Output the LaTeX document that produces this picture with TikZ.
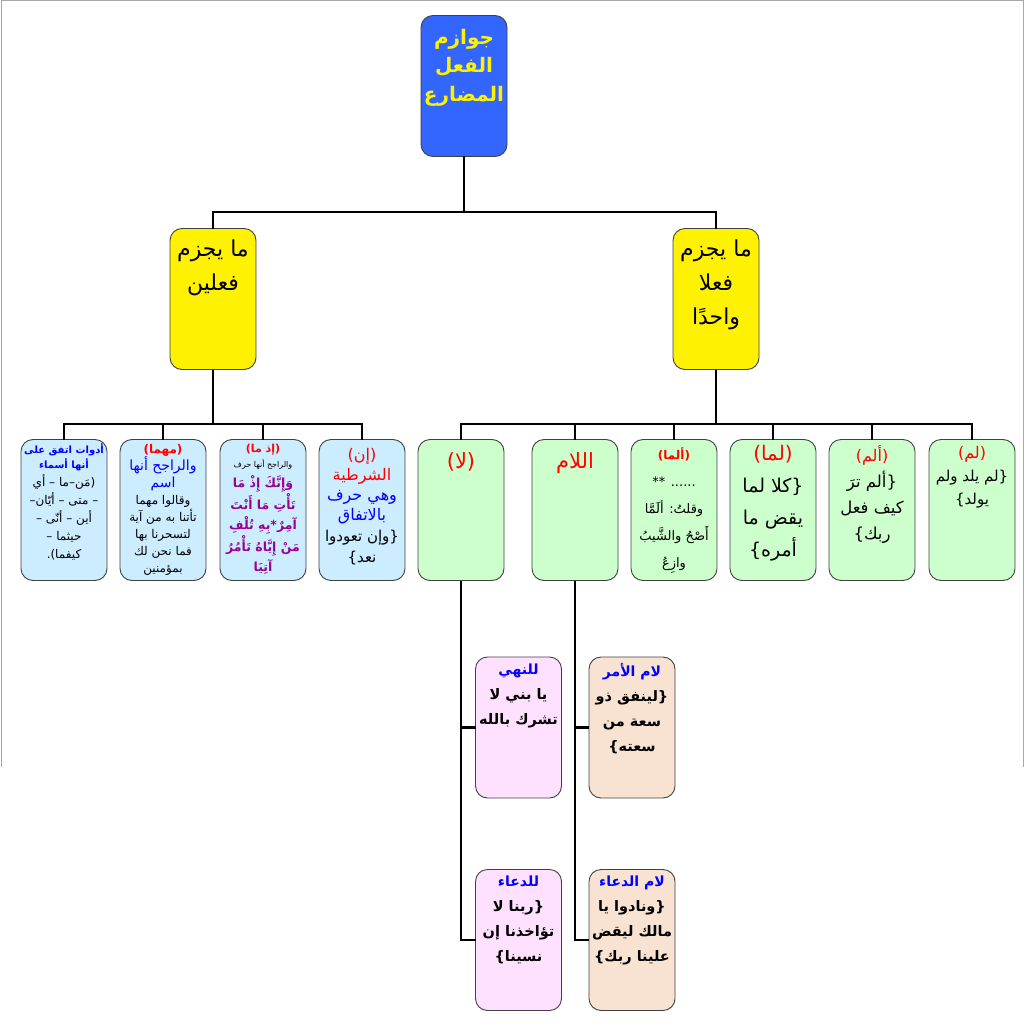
\documentclass[tikz,border=0pt]{standalone}
\usepackage{fontspec}
\newfontfamily\arabicfont[Script=Arabic]{DejaVu Sans}
\TeXXeTstate=1
\definecolor{topblue}{HTML}{3366FF}
\definecolor{paleblue}{HTML}{CCECFF}
\definecolor{palegreen}{HTML}{CCFFCC}
\definecolor{palepink}{HTML}{FFE0FF}
\definecolor{palepeach}{HTML}{F8E3D3}
\definecolor{arpurple}{HTML}{990099}
\definecolor{framegray}{HTML}{A8A8A8}
\newcommand{\rl}[1]{\beginR #1\endR}
\newcommand{\fs}[2]{\fontsize{#1}{#2}\selectfont}
\newcommand{\boxtext}[2][4]{\parbox[c][136pt][t]{84pt}{\centering\arabicfont\vspace*{#1pt}#2}}
\tikzset{
    box/.style={draw=black!75, line width=0.9pt, rounded corners=12pt,
        minimum width=86pt, minimum height=141pt, inner sep=0pt, outer sep=0pt},
    conn/.style={line width=2.2pt, black},
}
\begin{document}
\begin{tikzpicture}[x=1pt, y=-1pt]
    \useasboundingbox (0,0) rectangle (1024,1027);
    \draw[framegray, line width=0.8pt] (1,767) -- (1,0.5) -- (1023,0.5) -- (1023,767);
    % root
    \node[box, fill=topblue] (jawazim) at (464,86)
        {\boxtext[11]{\color{yellow}\bfseries\fs{20}{28.5}\rl{جوازم}\\\rl{الفعل}\\\rl{المضارع}\par}};
    \node[box, fill=yellow] (fiilayn) at (213,299)
        {\boxtext[9]{\fs{22}{34}\rl{ما يجزم}\\\rl{فعلين}\par}};
    \node[box, fill=yellow] (fiilwahid) at (716,299)
        {\boxtext[9]{\fs{22}{34}\rl{ما يجزم}\\\rl{فعلا}\\\rl{واحدًا}\par}};
    % jazm two verbs
    \node[box, fill=paleblue] (adawat) at (64,510)
        {\boxtext[2]{{\color{blue}\bfseries\fs{10}{15}\rl{أدوات اتفق على}\\\rl{أنها أسماء}\par}
        {\fs{12}{18}\rl{(مَن–ما – أي}\\\rl{– متى – أيّان–}\\\rl{أين – أنّى –}\\\rl{حيثما –}\\\rl{كيفما).}\par}}};
    \node[box, fill=paleblue] (mahma) at (163,510)
        {\boxtext[2]{{\color{red}\bfseries\fs{12}{16}\rl{(مهما)}\par}
        {\color{blue}\fs{14}{17}\rl{والراجح أنها}\\\rl{اسم}\par}
        {\fs{12}{17}\rl{وقالوا مهما}\\\rl{تأتنا به من آية}\\\rl{لتسحرنا بها}\\\rl{فما نحن لك}\\\rl{بمؤمنين}\par}}};
    \node[box, fill=paleblue] (idhma) at (263,510)
        {\boxtext[2]{{\color{red}\bfseries\fs{11}{15}\rl{(إذ ما)}\par}
        {\fs{8}{15}\rl{والراجح أنها حرف}\par}
        {\color{arpurple}\bfseries\fs{12.5}{20}\rl{وَإِنَّكَ إِذْ مَا}\\\rl{تَأْتِ مَا أَنْتَ}\\\rl{آمِرٌ*بِهِ تُلْفِ}\\\rl{مَنْ إِيَّاهُ تَأْمُرُ}\\\rl{آتِيَا}\par}}};
    \node[box, fill=paleblue] (inshart) at (362,510)
        {\boxtext[6]{{\color{red}\fs{16}{20}\rl{(إن)}\\\rl{الشرطية}\par}
        {\color{blue}\fs{16}{20}\rl{وهي حرف}\\\rl{بالاتفاق}\par}
        {\fs{15}{21}\rl{\{وإن تعودوا}\\\rl{نعد\}}\par}}};
    % jazm one verb
    \node[box, fill=palegreen] (la) at (461,510)
        {\boxtext[11]{\color{red}\fs{21}{24}\rl{(لا)}\par}};
    \node[box, fill=palegreen] (lamamr) at (575,510)
        {\boxtext[11]{\color{red}\fs{21}{24}\rl{اللام}\par}};
    \node[box, fill=palegreen] (alamma) at (674,510)
        {\boxtext[6]{{\color{red}\bfseries\fs{12}{16}\rl{(ألما)}\par}
        {\fs{13}{27}\rl{...... **}\\\rl{وقلتُ: ألَمَّا}\\\rl{أَصْحُ والشَّيبُ}\\\rl{وازِعُ}\par}}};
    \node[box, fill=palegreen] (lamma) at (773,510)
        {\boxtext[3]{{\color{red}\fs{20}{26}\rl{(لما)}\par}
        {\fs{19}{32}\rl{\{كلا لما}\\\rl{يقض ما}\\\rl{أمره\}}\par}}};
    \node[box, fill=palegreen] (alam) at (872,510)
        {\boxtext[4]{{\color{red}\fs{16}{20}\rl{(ألم)}\par}
        {\fs{16.5}{26}\rl{\{ألم ترَ}\\\rl{كيف فعل}\\\rl{ربك\}}\par}}};
    \node[box, fill=palegreen] (lam) at (972,510)
        {\boxtext[4]{{\color{red}\fs{16}{20}\rl{(لم)}\par}
        {\fs{15}{23}\rl{\{لم يلد ولم}\\\rl{يولد\}}\par}}};
    % third level
    \node[box, fill=palepink] (nahy) at (518.5,727.5)
        {\boxtext[4]{\bfseries{\color{blue}\fs{14}{18}\rl{للنهي}\par}
        {\fs{14.5}{25}\rl{يا بني لا}\\\rl{تشرك بالله}\par}}};
    \node[box, fill=palepink] (duala) at (518.5,940)
        {\boxtext[4]{\bfseries{\color{blue}\fs{14}{18}\rl{للدعاء}\par}
        {\fs{14.5}{25}\rl{\{ربنا لا}\\\rl{تؤاخذنا إن}\\\rl{نسينا\}}\par}}};
    \node[box, fill=palepeach] (amr) at (632,727.5)
        {\boxtext[4]{\bfseries{\color{blue}\fs{14}{18}\rl{لام الأمر}\par}
        {\fs{14.5}{25}\rl{\{لينفق ذو}\\\rl{سعة من}\\\rl{سعته\}}\par}}};
    \node[box, fill=palepeach] (dulam) at (632,940)
        {\boxtext[4]{\bfseries{\color{blue}\fs{14}{18}\rl{لام الدعاء}\par}
        {\fs{14.5}{25}\rl{\{ونادوا يا}\\\rl{مالك ليقض}\\\rl{علينا ربك\}}\par}}};
    % connectors
    \coordinate (busT) at (464,212);
    \coordinate (busL) at (213,424);
    \coordinate (busR) at (716,424);
    \draw[conn] (jawazim.south) -- (busT) -| (fiilayn.north);
    \draw[conn] (jawazim.south) -- (busT) -| (fiilwahid.north);
    \foreach \n in {adawat,mahma,idhma,inshart}
        \draw[conn] (fiilayn.south) -- (busL) -| (\n.north);
    \foreach \n in {la,lamamr,alamma,lamma,alam,lam}
        \draw[conn] (fiilwahid.south) -- (busR) -| (\n.north);
    \draw[conn] (la.south) |- (nahy.west);
    \draw[conn] (la.south) |- (duala.west);
    \draw[conn] (lamamr.south) |- (amr.west);
    \draw[conn] (lamamr.south) |- (dulam.west);
\end{tikzpicture}
\end{document}
